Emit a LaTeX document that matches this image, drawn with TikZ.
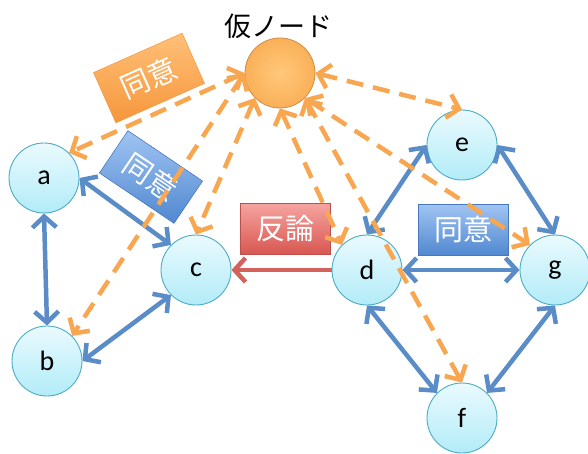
\documentclass[tikz,border=0pt]{standalone}
\usepackage{fontspec}
\setmainfont{Carlito}
\newfontfamily\jp{Noto Sans CJK JP}
\usetikzlibrary{arrows.meta}
\definecolor{cblue}{RGB}{90,140,200}
\definecolor{corange}{RGB}{248,166,80}
\definecolor{cred}{RGB}{212,98,92}
\definecolor{cfillT}{RGB}{234,250,254}
\definecolor{cfillB}{RGB}{178,236,248}
\definecolor{cborder}{RGB}{75,172,198}
\definecolor{sphin}{RGB}{255,200,122}
\definecolor{sphout}{RGB}{250,176,88}
\definecolor{sphborder}{RGB}{205,140,70}
\definecolor{obT}{RGB}{255,192,120}
\definecolor{obB}{RGB}{246,150,60}
\definecolor{bbT}{RGB}{160,196,242}
\definecolor{bbB}{RGB}{80,136,208}
\definecolor{bbD}{RGB}{72,120,190}
\definecolor{rbT}{RGB}{246,164,160}
\definecolor{rbB}{RGB}{216,86,80}
\definecolor{rbD}{RGB}{190,80,75}
\tikzset{
  circ/.style={circle, draw=cborder, line width=0.9pt, top color=cfillT, bottom color=cfillB,
    minimum size=70pt, inner sep=0pt, font=\fontsize{28}{30}\selectfont},
  sph/.style={circle, draw=sphborder, line width=0.8pt, inner color=sphin, outer color=sphout,
    minimum size=70pt, inner sep=0pt},
  obox/.style={draw=obB, line width=0.5pt, top color=obT, bottom color=obB, text=white,
    minimum width=97pt, minimum height=55pt, inner sep=0pt, font=\jp\fontsize{29}{30}\selectfont},
  bbox/.style={draw=bbD, line width=0.6pt, top color=bbT, bottom color=bbB, text=white,
    minimum width=90pt, minimum height=51pt, inner sep=0pt, font=\jp\fontsize{29}{30}\selectfont},
  rbox/.style={draw=rbD, line width=0.6pt, top color=rbT, bottom color=rbB, text=white,
    minimum width=90pt, minimum height=51pt, inner sep=0pt, font=\jp\fontsize{29}{30}\selectfont},
  barb/.tip={Straight Barb[length=11pt,width=24pt]},
  blueline/.style={line width=4.5pt, draw=cblue, barb-barb},
  redline/.style={line width=4.5pt, draw=cred, -barb},
  dashline/.style={line width=4.5pt, draw=corange, dash pattern=on 17pt off 10pt, barb-barb},
}
\begin{document}
\begin{tikzpicture}[x=1pt,y=-1pt]
\useasboundingbox (0,0) rectangle (588,454);
% boxes
\node[obox, rotate=24] (ob) at (149,78) {同意};
\node[bbox, rotate=-34] (bb1) at (151,177) {同意};
\node[rbox] (rb) at (285,229) {反論};
\node[bbox] (bb2) at (463,230) {同意};
% nodes
\node[sph] (v) at (280,73) {};
\node[font=\jp\fontsize{27}{30}\selectfont] (vl) at (278,26) {仮ノード};
\node[circ] (a) at (44,178) {a};
\node[circ] (b) at (47,361) {b};
\node[circ] (c) at (196,270) {c};
\node[circ] (d) at (367,270) {d};
\node[circ] (e) at (462,145) {e};
\node[circ] (g) at (555,270) {g};
\node[circ] (f) at (462,418) {f};
% blue arrows
\draw[blueline] (a.south) -- (b.north);
\draw[blueline] (a.east) -- (c.north west);
\draw[blueline] (b.east) -- (c.south west);
\draw[blueline] (d.north) -- (e.west);
\draw[blueline] (e.east) -- (g.north);
\draw[blueline] (d.east) -- (g.west);
\draw[blueline] (d.south) -- (f.north west);
\draw[blueline] (g.south) -- (f.north east);
% red arrow
\draw[redline] (d.west) -- (c.east);
% dashed orange
\draw[dashline] (v.west) -- (a.north east);
\draw[dashline] (v.west) -- (b.north east);
\draw[dashline] (v.south west) -- (c.north);
\draw[dashline] (v.south) -- (d.north west);
\draw[dashline] (v.east) -- (e.north);
\draw[dashline] (v.south east) -- (g.north west);
\draw[dashline] (v.south east) -- (f.north);
\end{tikzpicture}
\end{document}
